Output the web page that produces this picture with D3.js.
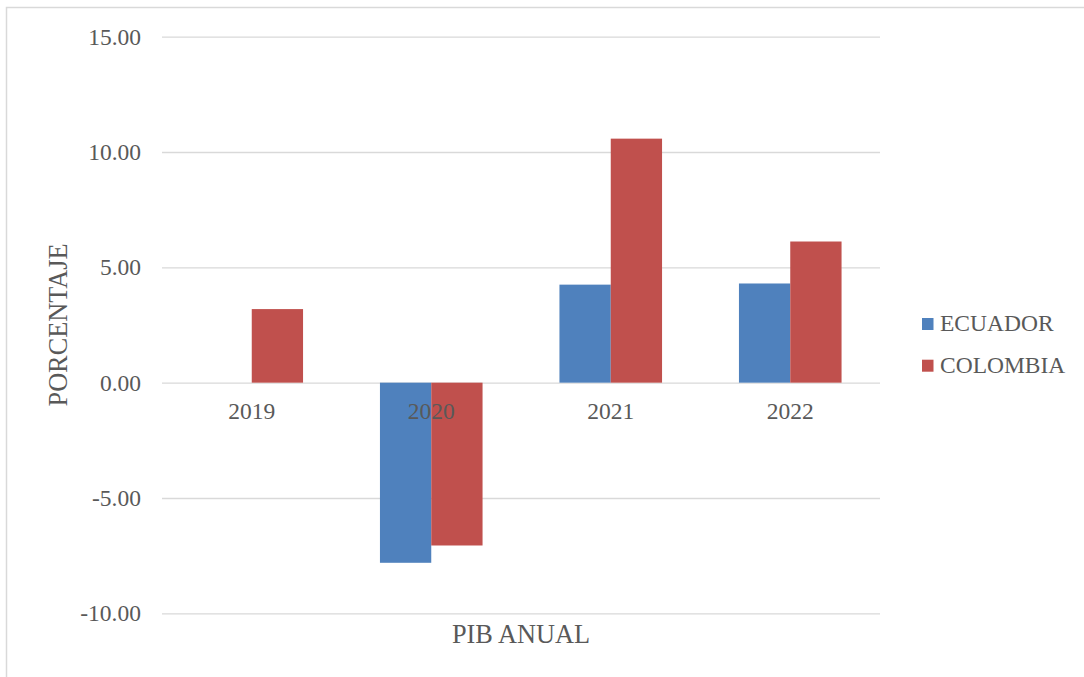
<!doctype html>
<html>
<head>
<meta charset="utf-8"/>
<style>
    html, body {
        margin: 0px;
        background: #fff;
    }
    svg {
        display: block;
    }
    text {
        font-family: 'Liberation Serif', 'Times New Roman', serif;
        fill: #595959;
    }
</style>
<script src="https://d3js.org/d3.v7.min.js"></script>
</head>
<body>
<svg width="1084" height="677"></svg>
<script>

    // data
    var years = ["2019", "2020", "2021", "2022"];
    var seriesNames = ["ECUADOR", "COLOMBIA"];
    var ecuador = [0.00, -7.81, 4.25, 4.30];
    var colombia = [3.19, -7.06, 10.58, 6.12];
    var yTicks = [-10, -5, 0, 5, 10, 15];

    var colours = {"ECUADOR": "#4F81BD", "COLOMBIA": "#C0504D"};
    var values = {"ECUADOR": ecuador, "COLOMBIA": colombia};

    var svg = d3.select("svg");

    // plot area (note: "top" is taken by window.top, so use a prefix)
    var plotLeft = 162, plotRight = 880, plotTop = 36.7, plotBottom = 613.3;

    // chart frame (only top and left edges show in the picture)
    svg.append("rect")
        .attr("x", 6.5)
        .attr("y", 7.5)
        .attr("width", 1100)
        .attr("height", 700)
        .attr("fill", "none")
        .attr("stroke", "#d9d9d9")
        .attr("stroke-width", 1.5);

    var y = d3.scaleLinear().domain([-10, 15]).range([plotBottom, plotTop]);
    var x0 = d3.scaleBand().domain(years).range([plotLeft, plotRight])
        .paddingInner(0.4284).paddingOuter(0.2142);
    var x1 = d3.scaleBand().domain(seriesNames).range([0, x0.bandwidth()]).padding(0);

    // --- GRID + Y LABELS --- //
    var yAxis = svg.append("g")
        .attr("transform", "translate(" + plotLeft + ",0)")
        .call(d3.axisLeft(y)
            .tickValues(yTicks)
            .tickFormat(function(d) { return d.toFixed(2); })
            .tickSize(-(plotRight - plotLeft))
            .tickPadding(21));
    yAxis.select(".domain").remove();
    yAxis.selectAll("line").attr("stroke", "#d9d9d9").attr("stroke-width", 1.3);
    yAxis.selectAll("text")
        .attr("fill", "#595959")
        .style("font-family", "'Liberation Serif', serif")
        .style("font-size", "23.5px");

    // --- BARS --- //
    var rows = years.map(function(yr, i) {
        return {year: yr, bars: seriesNames.map(function(s) { return {name: s, value: values[s][i]}; })};
    });

    var groups = svg.append("g").selectAll("g")
        .data(rows)
        .enter().append("g")
        .attr("transform", function(d) { return "translate(" + x0(d.year) + ",0)"; });

    groups.selectAll("rect")
        .data(function(d) { return d.bars; })
        .enter().append("rect")
        .attr("x", function(d) { return x1(d.name); })
        .attr("width", x1.bandwidth())
        .attr("y", function(d) { return y(Math.max(0, d.value)); })
        .attr("height", function(d) { return Math.abs(y(d.value) - y(0)); })
        .attr("fill", function(d) { return colours[d.name]; });

    // --- CATEGORY LABELS --- //
    var xAxis = svg.append("g")
        .attr("transform", "translate(0," + y(0) + ")")
        .call(d3.axisBottom(x0).tickSize(0));
    xAxis.select(".domain").remove();
    xAxis.selectAll("text")
        .attr("y", 36.3)
        .attr("dy", 0)
        .attr("fill", "#595959")
        .style("font-family", "'Liberation Serif', serif")
        .style("font-size", "23.5px");

    // --- AXIS TITLES --- //
    svg.append("text")
        .attr("transform", "translate(66.5," + ((plotTop + plotBottom) / 2) + ") rotate(-90)")
        .attr("text-anchor", "middle")
        .style("font-size", "26.3px")
        .text("PORCENTAJE");

    svg.append("text")
        .attr("x", (plotLeft + plotRight) / 2)
        .attr("y", 643)
        .attr("text-anchor", "middle")
        .style("font-size", "26.3px")
        .text("PIB ANUAL");

    // --- LEGEND --- //
    var legend = svg.append("g").selectAll("g")
        .data(seriesNames)
        .enter().append("g")
        .attr("transform", function(d, i) { return "translate(922," + (318 + i * 41.7) + ")"; });

    legend.append("rect")
        .attr("width", 11.5)
        .attr("height", 12)
        .attr("fill", function(d) { return colours[d]; });

    legend.append("text")
        .attr("x", 18)
        .attr("y", 13)
        .style("font-size", "23.5px")
        .text(function(d) { return d; });

</script>
</body>
</html>
